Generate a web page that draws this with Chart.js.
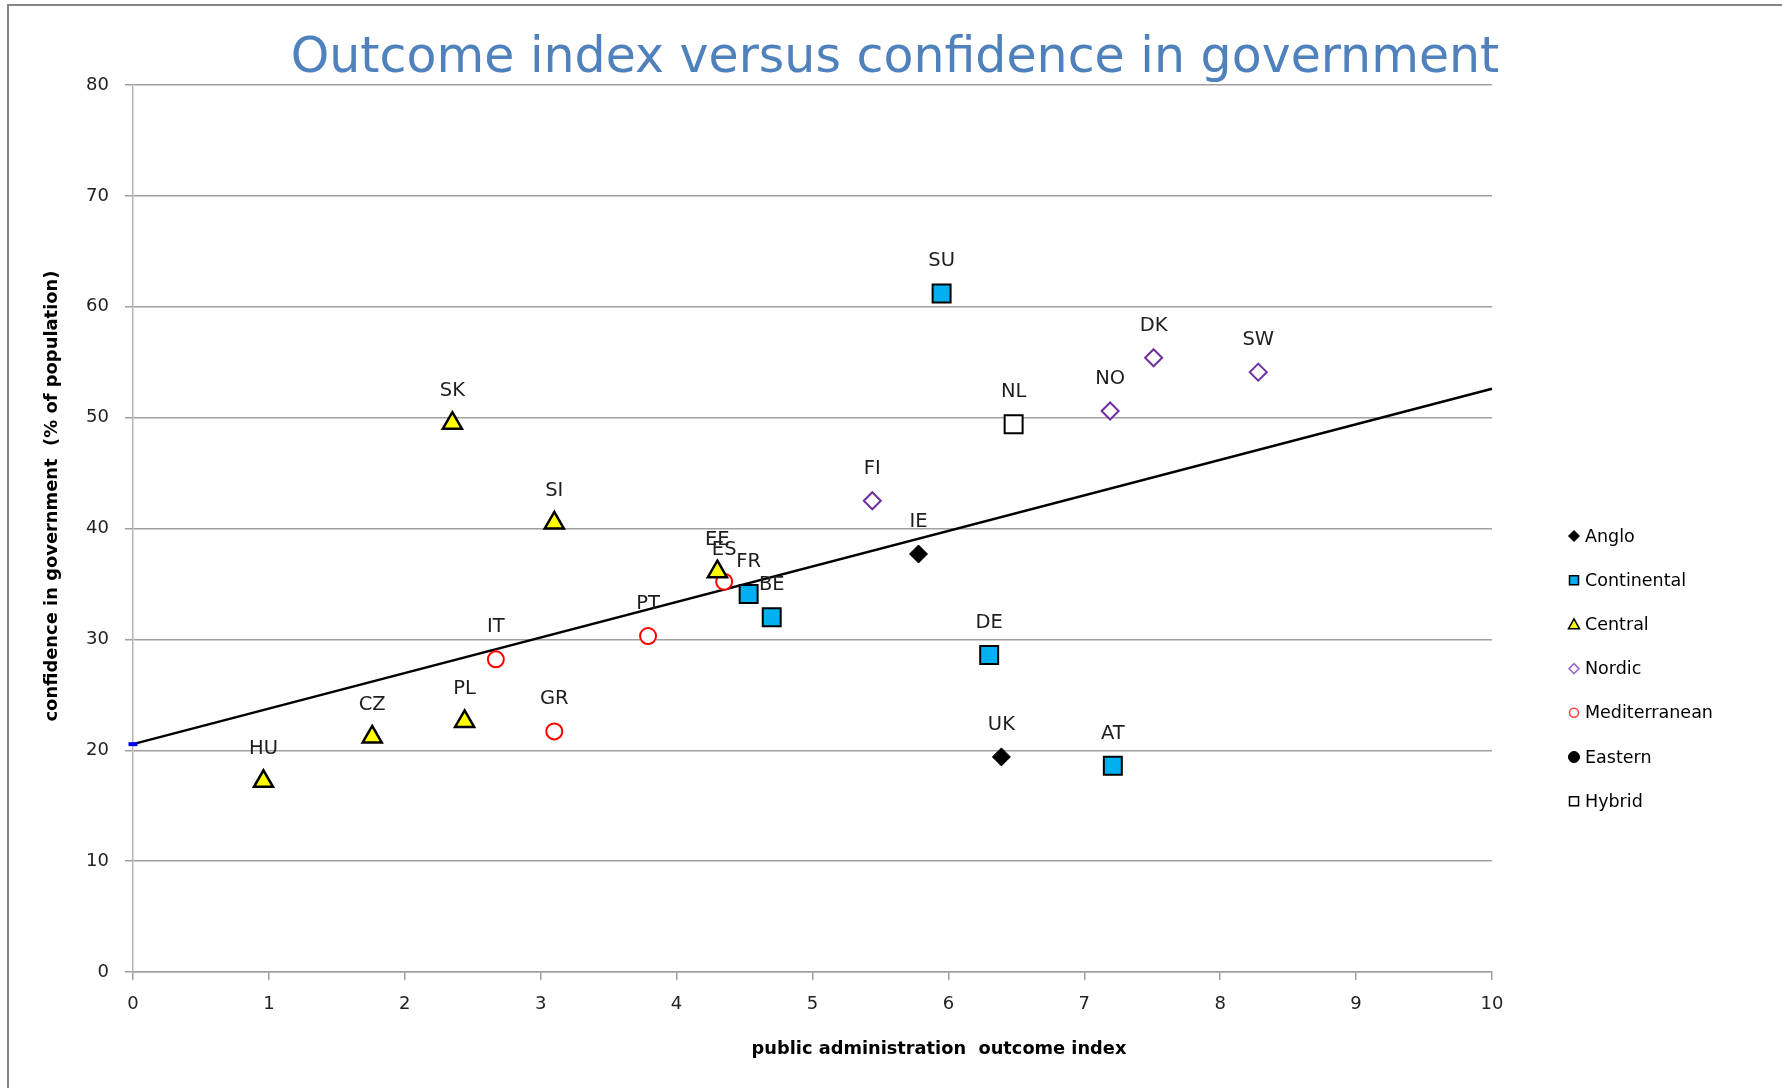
<!DOCTYPE html>
<html>
<head>
<meta charset="utf-8">
<script src="https://cdn.jsdelivr.net/npm/chart.js@4.4.0/dist/chart.umd.min.js"></script>
<style>
html,body{margin:0;padding:0;background:#fff;}
#wrap{position:relative;width:1782px;height:1088px;}
canvas{display:block;}
</style>
</head>
<body>
<div id="wrap"><canvas id="c" width="1782" height="1088"></canvas></div>
<script>
// ---------- data ----------
const titleText = 'Outcome index versus confidence in government';
const xAxisTitle = 'public administration  outcome index';
const yAxisTitle = 'confidence in government  (% of population)';
const xTickValues = [0, 1, 2, 3, 4, 5, 6, 7, 8, 9, 10];
const yTickValues = [0, 10, 20, 30, 40, 50, 60, 70, 80];

const angloCodes = ['IE', 'UK'];
const angloX = [5.78, 6.39];
const angloY = [37.7, 19.4];

const continentalCodes = ['FR', 'BE', 'SU', 'DE', 'AT'];
const continentalX = [4.53, 4.70, 5.95, 6.30, 7.21];
const continentalY = [34.1, 32.0, 61.2, 28.6, 18.6];

const centralCodes = ['HU', 'CZ', 'PL', 'SK', 'SI', 'EE'];
const centralX = [0.96, 1.76, 2.44, 2.35, 3.10, 4.30];
const centralY = [17.2, 21.2, 22.6, 49.5, 40.5, 36.1];

const nordicCodes = ['FI', 'NO', 'DK', 'SW'];
const nordicX = [5.44, 7.19, 7.51, 8.28];
const nordicY = [42.5, 50.6, 55.4, 54.1];

const medCodes = ['IT', 'GR', 'PT', 'ES'];
const medX = [2.67, 3.10, 3.79, 4.35];
const medY = [28.2, 21.7, 30.3, 35.2];

const easternCodes = [];
const easternX = [];
const easternY = [];

const hybridCodes = ['NL'];
const hybridX = [6.48];
const hybridY = [49.4];

const trendX = [0, 10];
const trendY = [20.55, 52.6];

// ---------- helpers ----------
const pts = (xs, ys) => xs.map((x, i) => ({x: x, y: ys[i]}));

function groupDataset(label, codes, xs, ys, style) {
  return Object.assign({
    label: label,
    codes: codes,
    data: pts(xs, ys),
    showLine: false,
    clip: false,
    order: 1
  }, style);
}

const datasets = [
  groupDataset('Anglo', angloCodes, angloX, angloY,
    {pointStyle: 'rectRot', pointRadius: 9, backgroundColor: '#000000', borderColor: '#000000', pointBorderWidth: 1,
     legendMarker: {shape: 'diamond', size: 5.5, fill: '#000', stroke: '#000', lw: 1}}),
  groupDataset('Continental', continentalCodes, continentalX, continentalY,
    {pointStyle: 'rect', pointRadius: 12.7, backgroundColor: '#00B0F0', borderColor: '#000000', pointBorderWidth: 2,
     legendMarker: {shape: 'square', size: 4.5, fill: '#00B0F0', stroke: '#000', lw: 1.5}}),
  groupDataset('Central', centralCodes, centralX, centralY,
    {pointStyle: 'triangle', pointRadius: 11, backgroundColor: '#FFFF00', borderColor: '#000000', pointBorderWidth: 2.5,
     legendMarker: {shape: 'triangle', size: 5.5, fill: '#FFFF00', stroke: '#000', lw: 1.5}}),
  groupDataset('Nordic', nordicCodes, nordicX, nordicY,
    {pointStyle: 'rectRot', pointRadius: 8.5, backgroundColor: '#FFFFFF', borderColor: '#7030A0', pointBorderWidth: 2,
     legendMarker: {shape: 'diamond', size: 5, fill: '#fff', stroke: '#9a6acb', lw: 1.5}}),
  groupDataset('Mediterranean', medCodes, medX, medY,
    {pointStyle: 'circle', pointRadius: 8, backgroundColor: '#FFFFFF', borderColor: '#FF0000', pointBorderWidth: 2,
     legendMarker: {shape: 'circle', size: 4.5, fill: '#fff', stroke: '#ff4040', lw: 1.5}}),
  groupDataset('Eastern', easternCodes, easternX, easternY,
    {pointStyle: 'circle', pointRadius: 7.5, backgroundColor: '#000000', borderColor: '#000000', pointBorderWidth: 1,
     legendMarker: {shape: 'circle', size: 5.5, fill: '#000', stroke: '#000', lw: 1}}),
  groupDataset('Hybrid', hybridCodes, hybridX, hybridY,
    {pointStyle: 'rect', pointRadius: 12.7, backgroundColor: '#FFFFFF', borderColor: '#000000', pointBorderWidth: 2,
     legendMarker: {shape: 'square', size: 4.5, fill: '#fff', stroke: '#000', lw: 1.5}}),
  {
    label: 'trend',
    isTrend: true,
    data: pts(trendX, trendY),
    showLine: true,
    clip: false,
    borderColor: '#000000',
    borderWidth: 2.5,
    pointStyle: 'line',
    pointRadius: [4.5, 0],
    pointBorderColor: ['#0000FF', '#000000'],
    pointBorderWidth: [4, 0],
    order: 5
  }
];

// ---------- plugins ----------
const bgPlugin = {
  id: 'bg',
  beforeDraw(chart) {
    const ctx = chart.ctx;
    ctx.save();
    ctx.fillStyle = '#ffffff';
    ctx.fillRect(0, 0, chart.width, chart.height);
    ctx.strokeStyle = '#858585';
    ctx.lineWidth = 2;
    ctx.beginPath();
    ctx.moveTo(8, chart.height);
    ctx.lineTo(8, 5);
    ctx.lineTo(chart.width, 5);
    ctx.stroke();
    ctx.restore();
  }
};

function drawMarker(ctx, m, x, y) {
  ctx.save();
  ctx.fillStyle = m.fill;
  ctx.strokeStyle = m.stroke;
  ctx.lineWidth = m.lw;
  ctx.beginPath();
  const s = m.size;
  if (m.shape === 'square') {
    ctx.rect(x - s, y - s, 2 * s, 2 * s);
  } else if (m.shape === 'diamond') {
    ctx.moveTo(x, y - s); ctx.lineTo(x + s, y); ctx.lineTo(x, y + s); ctx.lineTo(x - s, y); ctx.closePath();
  } else if (m.shape === 'triangle') {
    ctx.moveTo(x, y - s); ctx.lineTo(x + s, y + s * 0.8); ctx.lineTo(x - s, y + s * 0.8); ctx.closePath();
  } else {
    ctx.arc(x, y, s, 0, Math.PI * 2);
  }
  ctx.fill();
  ctx.stroke();
  ctx.restore();
}

const annotPlugin = {
  id: 'annot',
  afterDatasetsDraw(chart) {
    const ctx = chart.ctx;
    ctx.save();
    // point labels
    ctx.font = '19.5px "DejaVu Sans"';
    ctx.fillStyle = '#1e1e1e';
    ctx.textAlign = 'center';
    ctx.textBaseline = 'alphabetic';
    chart.data.datasets.forEach((ds, i) => {
      if (!ds.codes) return;
      const meta = chart.getDatasetMeta(i);
      meta.data.forEach((el, j) => {
        ctx.fillText(ds.codes[j], el.x, el.y - 27);
      });
    });
    ctx.restore();
  },
  afterDraw(chart) {
    const ctx = chart.ctx;
    ctx.save();
    // title
    ctx.font = '49px "DejaVu Sans"';
    ctx.fillStyle = '#4F81BD';
    ctx.textAlign = 'center';
    ctx.textBaseline = 'alphabetic';
    ctx.fillText(titleText, 895, 72);
    // x axis title
    ctx.font = 'bold 17.8px "DejaVu Sans"';
    ctx.fillStyle = '#000000';
    ctx.fillText(xAxisTitle, 939, 1054);
    // y axis title
    ctx.save();
    ctx.translate(52, 496);
    ctx.rotate(-Math.PI / 2);
    ctx.textBaseline = 'middle';
    ctx.font = 'bold 17.9px "DejaVu Sans"';
    ctx.fillText(yAxisTitle, 0, 0);
    ctx.restore();
    // legend
    ctx.font = '17.5px "DejaVu Sans"';
    ctx.textAlign = 'left';
    ctx.textBaseline = 'middle';
    ctx.fillStyle = '#000000';
    let row = 0;
    chart.data.datasets.forEach(ds => {
      if (ds.isTrend) return;
      const y = 536 + row * 44.2;
      drawMarker(ctx, ds.legendMarker, 1574, y);
      ctx.fillStyle = '#000000';
      ctx.fillText(ds.label, 1585, y + 1);
      row++;
    });
    ctx.restore();
  }
};

// ---------- chart ----------
new Chart(document.getElementById('c'), {
  type: 'scatter',
  data: {datasets: datasets},
  options: {
    responsive: false,
    animation: false,
    devicePixelRatio: 1,
    events: [],
    layout: {padding: {left: 0, right: 290, top: 85, bottom: 0}},
    plugins: {
      legend: {display: false},
      title: {display: false},
      tooltip: {enabled: false}
    },
    scales: {
      x: {
        type: 'linear',
        min: 0,
        max: 10,
        afterBuildTicks: s => { s.ticks = xTickValues.map(v => ({value: v})); },
        afterFit: s => { s.height = 116; },
        ticks: {
          font: {family: 'DejaVu Sans', size: 18},
          color: '#222222',
          padding: 14,
          maxRotation: 0,
          autoSkip: false
        },
        grid: {drawOnChartArea: false, drawTicks: true, tickLength: 8, color: '#a0a0a0', lineWidth: 1.5},
        border: {display: true, color: '#a0a0a0', width: 1.5}
      },
      y: {
        type: 'linear',
        min: 0,
        max: 80,
        afterBuildTicks: s => { s.ticks = yTickValues.map(v => ({value: v})); },
        afterFit: s => { s.width = 133; },
        ticks: {
          font: {family: 'DejaVu Sans', size: 18},
          color: '#222222',
          padding: 16,
          autoSkip: false
        },
        grid: {drawOnChartArea: true, drawTicks: true, tickLength: 8, color: '#a0a0a0', lineWidth: 1.5},
        border: {display: true, color: '#b4b4b4', width: 1.5}
      }
    }
  },
  plugins: [bgPlugin, annotPlugin]
});
</script>
</body>
</html>
